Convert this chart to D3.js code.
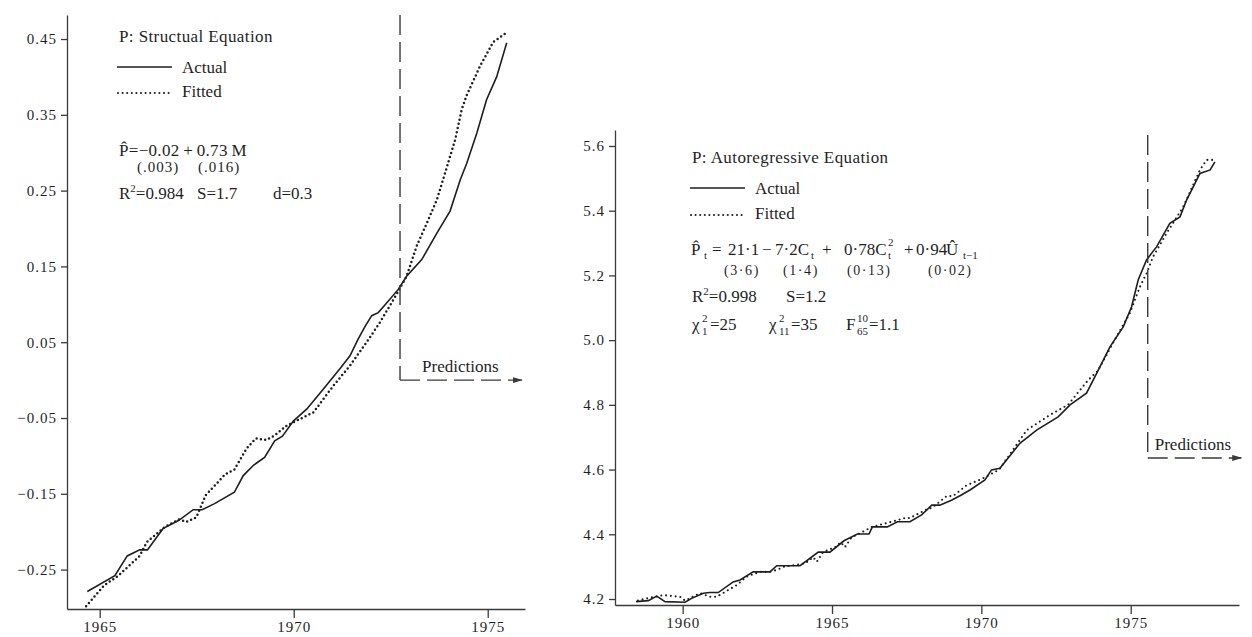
<!DOCTYPE html>
<meta charset="utf-8">
<style>
    body { margin: 0; background: #fff; }
    svg { display: block; }
    text { font-family: "Liberation Serif", "DejaVu Serif", serif; fill: #1f1f1f; }
    .axis path, .axis line { stroke: #3a3a3a; stroke-width: 1.3; }
    .axis text { font-size: 15px; letter-spacing: 1px; fill: #1f1f1f; font-family: "Liberation Serif", serif; }
    .actual { fill: none; stroke: #1e1e1e; stroke-width: 1.6; }
    .fitted { fill: none; stroke: #1e1e1e; stroke-linecap: round; }
    .pred { fill: none; stroke: #3a3a3a; stroke-width: 1.4; stroke-dasharray: 20,7; }
    .note { font-size: 17px; }
    .small { font-size: 11px; }
</style>

<svg width="1252" height="637"></svg>
<script src="https://d3js.org/d3.v7.min.js"></script>

<script>
    // ---- data ----
    // left panel: structural equation
    var leftActualYears = [1964.68, 1965.39, 1965.71, 1966.03, 1966.23, 1966.63, 1967.04, 1967.41, 1967.64, 1967.96,
        1968.47, 1968.70, 1968.97, 1969.25, 1969.51, 1969.71, 1969.99, 1970.34, 1970.76, 1971.19, 1971.45, 1971.66,
        1971.84, 1972.01, 1972.18, 1972.40, 1972.70, 1972.91, 1973.30, 1973.69, 1974.03, 1974.29, 1974.46, 1974.72,
        1974.97, 1975.23, 1975.49];
    var leftActual = [-0.279, -0.258, -0.232, -0.224, -0.224, -0.196, -0.185, -0.171, -0.171, -0.163,
        -0.148, -0.126, -0.112, -0.102, -0.080, -0.074, -0.054, -0.038, -0.012, 0.015, 0.032, 0.054,
        0.071, 0.085, 0.089, 0.102, 0.120, 0.137, 0.159, 0.194, 0.223, 0.264, 0.286, 0.326,
        0.370, 0.400, 0.445];
    var leftFittedYears = [1964.65, 1965.11, 1965.48, 1966.03, 1966.21, 1966.67, 1967.04, 1967.23, 1967.49, 1967.73,
        1968.24, 1968.47, 1968.79, 1969.02, 1969.30, 1969.51, 1969.82, 1970.51, 1971.02, 1971.45, 1971.88, 1972.22,
        1972.65, 1972.91, 1973.17, 1973.43, 1973.69, 1973.90, 1974.16, 1974.33, 1974.46, 1974.80, 1975.14, 1975.45];
    var leftFitted = [-0.2985, -0.271, -0.258, -0.232, -0.214, -0.194, -0.184, -0.187, -0.181, -0.152,
        -0.124, -0.118, -0.090, -0.077, -0.079, -0.073, -0.060, -0.0425, -0.0075, 0.019, 0.050, 0.076,
        0.113, 0.137, 0.177, 0.207, 0.238, 0.273, 0.317, 0.357, 0.376, 0.414, 0.446, 0.457];

    // right panel: autoregressive equation
    var rightActualYears = [1958.44, 1958.85, 1959.13, 1959.41, 1960.08, 1960.30, 1960.69, 1960.91, 1961.19, 1961.69,
        1961.92, 1962.36, 1962.92, 1963.15, 1963.93, 1964.54, 1964.93, 1965.40, 1965.85, 1966.24, 1966.35, 1966.85,
        1967.19, 1967.61, 1968.00, 1968.34, 1968.61, 1969.00, 1969.30, 1969.62, 1970.12, 1970.34, 1970.62, 1971.29,
        1971.85, 1972.57, 1972.97, 1973.52, 1973.86, 1974.31, 1974.75, 1975.03, 1975.25, 1975.53, 1975.87, 1976.31,
        1976.65, 1976.87, 1977.32, 1977.66, 1977.82];
    var rightActual = [4.192, 4.195, 4.209, 4.192, 4.190, 4.202, 4.218, 4.220, 4.220, 4.253,
        4.259, 4.284, 4.284, 4.303, 4.303, 4.345, 4.345, 4.380, 4.401, 4.401, 4.423, 4.423,
        4.439, 4.439, 4.460, 4.490, 4.490, 4.505, 4.520, 4.537, 4.568, 4.599, 4.604, 4.681,
        4.722, 4.763, 4.800, 4.836, 4.897, 4.980, 5.041, 5.103, 5.186, 5.248, 5.289, 5.361,
        5.381, 5.433, 5.515, 5.526, 5.551];
    var rightFittedYears = [1958.50, 1958.70, 1959.35, 1959.91, 1960.08, 1960.58, 1960.91, 1961.14, 1961.81, 1962.14,
        1962.58, 1962.92, 1963.15, 1963.40, 1964.10, 1964.37, 1964.49, 1964.70, 1965.10, 1965.30, 1965.43, 1965.65,
        1966.35, 1967.05, 1967.50, 1967.60, 1968.17, 1968.35, 1968.84, 1969.05, 1969.51, 1969.73, 1970.10, 1970.60,
        1971.52, 1972.30, 1972.90, 1973.58, 1973.90, 1974.40, 1974.97, 1975.31, 1975.53, 1975.75, 1976.20, 1976.76,
        1977.32, 1977.54, 1977.76];
    var rightFitted = [4.195, 4.200, 4.212, 4.207, 4.195, 4.218, 4.207, 4.207, 4.243, 4.269,
        4.284, 4.284, 4.290, 4.300, 4.310, 4.329, 4.315, 4.345, 4.360, 4.375, 4.360, 4.390,
        4.423, 4.440, 4.452, 4.450, 4.477, 4.482, 4.518, 4.518, 4.552, 4.560, 4.575, 4.600,
        4.722, 4.769, 4.800, 4.877, 4.905, 4.990, 5.083, 5.165, 5.206, 5.258, 5.330, 5.412,
        5.526, 5.557, 5.557];

    var leftTicksX = [1965, 1970, 1975];
    var leftTicksY = [-0.25, -0.15, -0.05, 0.05, 0.15, 0.25, 0.35, 0.45];
    var rightTicksX = [1960, 1965, 1970, 1975];
    var rightTicksY = [4.2, 4.4, 4.6, 4.8, 5.0, 5.2, 5.4, 5.6];

    var leftPredStart = 1972.74, leftPredLevel = 0.0, leftPredEnd = 1975.88;
    var rightPredStart = 1975.57, rightPredLevel = 4.636, rightPredEnd = 1978.7;

    var svg = d3.select("svg");

    svg.append("defs").append("marker")
        .attr("id", "arrow")
        .attr("viewBox", "0 0 10 6")
        .attr("refX", 9).attr("refY", 3)
        .attr("markerWidth", 10).attr("markerHeight", 6)
        .attr("markerUnits", "userSpaceOnUse")
        .attr("orient", "auto")
        .append("path").attr("d", "M0,0 L10,3 L0,6 Z").attr("fill", "#3a3a3a");

    function zip(xs, ys) { return xs.map(function (x, i) { return [x, ys[i]]; }); }

    function panel(o) {
        var x = d3.scaleLinear().domain(o.xDomain).range(o.xRange);
        var y = d3.scaleLinear().domain(o.yDomain).range(o.yRange);
        var g = svg.append("g");

        g.append("g").attr("class", "axis")
            .attr("transform", "translate(0," + o.yRange[0] + ")")
            .call(d3.axisBottom(x).tickValues(o.ticksX).tickFormat(d3.format("d"))
                .tickSizeInner(9).tickSizeOuter(0).tickPadding(3));
        g.append("g").attr("class", "axis")
            .attr("transform", "translate(" + o.xRange[0] + ",0)")
            .call(d3.axisLeft(y).tickValues(o.ticksY).tickFormat(d3.format(o.yFmt))
                .tickSizeInner(6).tickSizeOuter(0).tickPadding(4));

        var line = d3.line().x(function (d) { return x(d[0]); }).y(function (d) { return y(d[1]); });
        g.append("path").datum(zip(o.actualYears, o.actual)).attr("class", "actual").attr("d", line);
        g.append("path").datum(zip(o.fittedYears, o.fitted)).attr("class", "fitted").attr("d", line)
            .style("stroke-width", o.dotW).style("stroke-dasharray", "0," + o.dotGap);

        // predictions marker
        var px = x(o.pred[0]), py = y(o.pred[1]);
        g.append("path").attr("class", "pred")
            .attr("d", "M" + px + "," + (o.yRange[1] + o.predTopGap) + " L" + px + "," + py);
        g.append("path").attr("class", "pred").attr("marker-end", "url(#arrow)")
            .attr("d", "M" + px + "," + py + " L" + x(o.pred[2]) + "," + py);
        g.append("text").attr("class", "note")
            .attr("x", px + o.predTextDx).attr("y", py - 8)
            .text("Predictions");
        return g;
    }

    panel({
        xDomain: [1964.157, 1975.961], xRange: [67, 525],
        yDomain: [-0.302, 0.4817], yRange: [609, 15],
        ticksX: leftTicksX, ticksY: leftTicksY, yFmt: ".2f",
        actualYears: leftActualYears, actual: leftActual,
        fittedYears: leftFittedYears, fitted: leftFitted,
        dotW: 2.5, dotGap: 4.3,
        pred: [leftPredStart, leftPredLevel, leftPredEnd], predTopGap: 0, predTextDx: 22
    });

    panel({
        xDomain: [1957.734, 1978.626], xRange: [615, 1239],
        yDomain: [4.1815, 5.6494], yRange: [605, 130],
        ticksX: rightTicksX, ticksY: rightTicksY, yFmt: ".1f",
        actualYears: rightActualYears, actual: rightActual,
        fittedYears: rightFittedYears, fitted: rightFitted,
        dotW: 2.1, dotGap: 4.8,
        pred: [rightPredStart, rightPredLevel, rightPredEnd], predTopGap: 5, predTextDx: 7
    });

    // ---- annotation blocks ----
    function legend(x0, yTitle, yA, yF, title) {
        svg.append("text").attr("class", "note").attr("x", x0).attr("y", yTitle)
            .style("letter-spacing", "0.4px").text(title);
        svg.append("line").attr("x1", x0 - 2).attr("x2", x0 + 53).attr("y1", yA - 6).attr("y2", yA - 6)
            .attr("stroke", "#1e1e1e").attr("stroke-width", 1.6);
        svg.append("text").attr("class", "note").attr("x", x0 + 63).attr("y", yA).text("Actual");
        svg.append("line").attr("x1", x0 - 1).attr("x2", x0 + 53).attr("y1", yF - 4).attr("y2", yF - 4)
            .attr("stroke", "#1e1e1e").attr("stroke-width", 2.1).attr("stroke-linecap", "round")
            .attr("stroke-dasharray", "0,4.6");
        svg.append("text").attr("class", "note").attr("x", x0 + 63).attr("y", yF).text("Fitted");
    }

    function put(x, y, s, cls) {
        return svg.append("text").attr("class", cls || "note").attr("x", x).attr("y", y).text(s);
    }

    function rsq(x, y, val) {
        var t = put(x, y, "R");
        t.append("tspan").attr("dy", -7).style("font-size", "11px").text("2");
        t.append("tspan").attr("dy", 7).text("=" + val);
    }

    legend(119, 42, 73, 97, "P: Structual Equation");
    put(119, 156, "P\u0302=\u22120.02\u2009+\u20090.73\u2009M").style("letter-spacing", "0.3px");
    put(137, 172, "(.003)").style("font-size", "15px").style("letter-spacing", "1px");
    put(198, 172, "(.016)").style("font-size", "15px").style("letter-spacing", "1px");
    rsq(119, 199, "0.984");
    put(197, 199, "S=1.7");
    put(273, 199, "d=0.3");

    legend(692, 163, 194, 219, "P: Autoregressive Equation");
    put(691, 255, "P\u0302");
    put(704, 259, "t", "small");
    put(712, 255, "=");
    put(728, 255, "21\u00b71");
    put(762, 255, "\u2212");
    put(775, 255, "7\u00b72C");
    put(811, 259, "t", "small");
    put(822, 255, "+");
    put(844, 255, "0\u00b778C");
    put(888, 246, "2", "small");
    put(888, 259, "t", "small");
    put(904, 255, "+");
    put(916, 255, "0\u00b794");
    put(946, 255, "U\u0302");
    put(963, 259, "t\u22121", "small");
    [["(3\u00b76)", 724], ["(1\u00b74)", 783], ["(0\u00b713)", 847], ["(0\u00b702)", 928]].forEach(function (p) {
        put(p[1], 275, p[0]).style("font-size", "14px").style("letter-spacing", "1.6px");
    });
    rsq(692, 302, "0.998");
    put(786, 302, "S=1.2");

    put(692, 330, "\u03c7");
    put(702, 322, "2", "small");
    put(702, 335, "1", "small");
    put(710, 330, "=25");
    put(769, 330, "\u03c7");
    put(779, 322, "2", "small");
    put(779, 335, "11", "small");
    put(791, 330, "=35");
    put(846, 330, "F");
    put(857, 322, "10", "small");
    put(857, 335, "65", "small");
    put(869, 330, "=1.1");
</script>
